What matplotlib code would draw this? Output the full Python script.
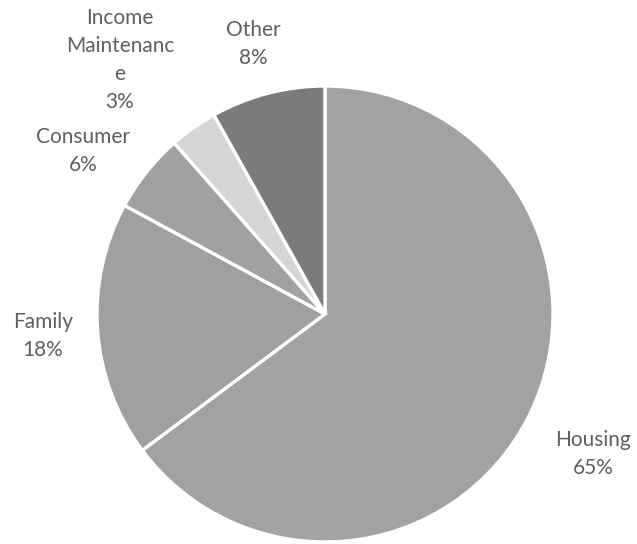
import matplotlib
matplotlib.use("Agg")
from matplotlib import pyplot as plt

# slice data, clockwise from 12 o'clock
categories = ["Housing", "Family", "Consumer", "Income\nMaintenanc\ne", "Other"]
shares = [64.8, 18.1, 5.6, 3.4, 8.1]
colors = ["#a2a2a2", "#a0a0a0", "#a1a1a1", "#d5d5d5", "#7b7b7b"]

# label centres (data units, pie radius = 1)
label_pos = [(1.175, -0.614), (-1.237, -0.096), (-1.061, 0.715), (-0.899, 1.114), (-0.316, 1.184)]

plt.rcParams["font.family"] = ["Lato", "DejaVu Sans"]
plt.rcParams["savefig.dpi"] = 100

fig = plt.figure(figsize=(6.37, 5.44))
ax = fig.add_axes([0, 0, 1, 1])
ax.pie(shares, colors=colors, startangle=90, counterclock=False,
       wedgeprops=dict(edgecolor="white", linewidth=2.4))
ax.set_xlim(-325 / 228, (637 - 325) / 228)
ax.set_ylim(-230 / 228, 314 / 228)
ax.set_aspect("equal")
ax.axis("off")

for name, val, (x, y) in zip(categories, shares, label_pos):
    ax.text(x, y, f"{name}\n{round(val)}%", ha="center", va="center",
            fontsize=15, color="#5f5f5f", linespacing=1.5)

plt.savefig("out.png", facecolor="white")
